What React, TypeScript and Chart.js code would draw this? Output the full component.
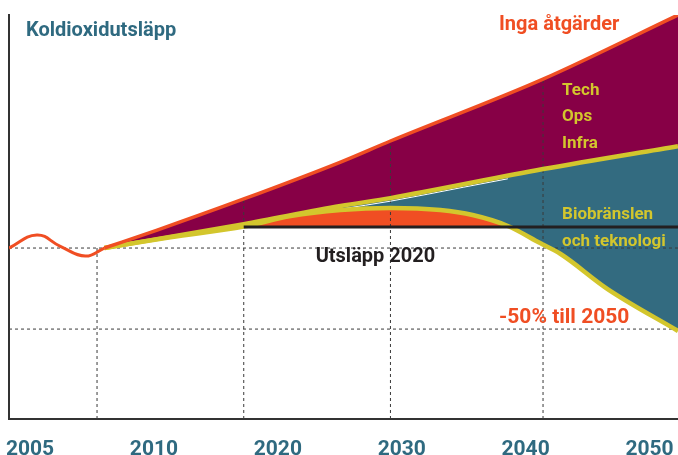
import React, { useEffect, useRef } from 'react';
import { Chart, registerables } from 'chart.js';

Chart.register(...registerables);

// ---- data ----
const yearTickLabels = ['2005', '2010', '2020', '2030', '2040', '2050'];

const historyYears = [2004, 2005.9, 2007.5, 2009.2, 2010.5];
const historyValues = [100, 107.6, 101, 95.3, 100];

const noActionYears = [2010.5, 2014.1, 2020, 2026.6, 2030, 2040.4, 2049.6];
const noActionValues = [100, 110.5, 128.7, 150.3, 162.6, 198.8, 236.3];

const techYears = [2010.5, 2020, 2026.6, 2030, 2040.4, 2049.6];
const techValues = [100, 114.0, 124.6, 129.2, 146.2, 159.6];

const bioYears = [2010.5, 2015, 2020, 2023.2, 2026.6, 2030, 2033.4, 2035.6, 2038, 2040.2, 2041.6, 2044.8, 2049.6];
const bioValues = [100, 106.3, 112.5, 118.7, 122.2, 123.4, 122.2, 119.3, 112.9, 102.9, 96.5, 76.0, 51.5];

const emissions2020Years = [2020, 2049.6];
const emissions2020Value = 112.3;

const separatorYears = [2026.6, 2030, 2035, 2038];
const separatorValues = [122.8, 127.4, 135.6, 140.5];

const refLevels = [100, 52.6];
const decadeYears = [2010, 2020, 2030, 2040.4];
const decadeTops = [100, 128.3, 162.2, 198.5];

const X_MIN = 2004;
const X_MAX = 2049.6;
const Y_MAX = 236.3;

// ---- styles ----
const PURPLE = '#870046';
const TEAL = '#336b80';
const TEAL_TEXT = '#2f6a80';
const ORANGE = '#f04e23';
const YELLOW = '#d3c62d';
const BLACK = '#231f20';
const DASH = '#3a3a3a';
const FONT = 'Roboto, "Open Sans", sans-serif';

const annotations = [
  { text: 'Koldioxidutsläpp', x: 2005.16, y: 224.0, color: TEAL_TEXT, size: 20 },
  { text: 'Inga åtgärder', x: 2037.4, y: 227.5, color: ORANGE, size: 20 },
  { text: 'Tech', x: 2041.7, y: 189.5, color: YELLOW, size: 17 },
  { text: 'Ops', x: 2041.7, y: 174.3, color: YELLOW, size: 17 },
  { text: 'Infra', x: 2041.7, y: 158.5, color: YELLOW, size: 17 },
  { text: 'Biobränslen', x: 2041.7, y: 117.0, color: YELLOW, size: 17 },
  { text: 'och teknologi', x: 2041.7, y: 101.2, color: YELLOW, size: 17 },
  { text: 'Utsläpp 2020', x: 2024.9, y: 91.8, color: BLACK, size: 20 },
  { text: '-50% till 2050', x: 2037.4, y: 56.1, color: ORANGE, size: 21 },
];

const zip = (xs: number[], ys: number[]) => xs.map((x, i) => ({ x, y: ys[i] }));

const textPlugin = {
  id: 'chartTexts',
  afterDraw(chart: any) {
    const { ctx, scales } = chart;
    ctx.save();
    ctx.textAlign = 'left';
    ctx.textBaseline = 'alphabetic';
    for (const a of annotations) {
      ctx.font = `bold ${a.size}px ${FONT}`;
      ctx.fillStyle = a.color;
      ctx.fillText(a.text, scales.x.getPixelForValue(a.x), scales.y.getPixelForValue(a.y));
    }
    ctx.restore();
  },
};

const noPad = (s: any) => {
  s.paddingLeft = 0;
  s.paddingRight = 0;
  s.paddingTop = 0;
  s.paddingBottom = 0;
};

export default function App() {
  const ref = useRef<HTMLCanvasElement | null>(null);

  useEffect(() => {
    if (!ref.current) return;
    const dashed = { borderColor: DASH, borderWidth: 1, borderDash: [3, 3], pointRadius: 0, fill: false, tension: 0 };
    const datasets: any[] = [
      {
        label: 'Inga åtgärder',
        data: zip(noActionYears, noActionValues),
        borderColor: ORANGE,
        borderWidth: 3.5,
        backgroundColor: PURPLE,
        fill: 3,
        cubicInterpolationMode: 'monotone',
        pointRadius: 0,
      },
      {
        label: 'Historik',
        data: zip(historyYears, historyValues),
        borderColor: ORANGE,
        borderWidth: 3,
        fill: false,
        tension: 0.45,
        pointRadius: 0,
      },
      {
        label: 'Utsläpp 2020',
        data: emissions2020Years.map((x) => ({ x, y: emissions2020Value })),
        borderColor: BLACK,
        borderWidth: 3,
        fill: false,
        pointRadius: 0,
      },
      {
        label: 'Tech Ops Infra',
        data: zip(techYears, techValues),
        borderColor: YELLOW,
        borderWidth: 4.5,
        backgroundColor: TEAL,
        fill: 4,
        cubicInterpolationMode: 'monotone',
        pointRadius: 0,
      },
      {
        label: 'Biobränslen och teknologi',
        data: zip(bioYears, bioValues),
        borderColor: YELLOW,
        borderWidth: 4.5,
        fill: { target: { value: emissions2020Value }, above: ORANGE, below: 'rgba(0,0,0,0)' },
        cubicInterpolationMode: 'monotone',
        pointRadius: 0,
      },
      {
        label: 'sep',
        data: zip(separatorYears, separatorValues),
        borderColor: '#ffffff',
        borderWidth: 1,
        fill: false,
        cubicInterpolationMode: 'monotone',
        pointRadius: 0,
      },
      ...refLevels.map((v) => ({
        ...dashed,
        label: 'ref',
        data: [
          { x: X_MIN, y: v },
          { x: X_MAX, y: v },
        ],
      })),
      ...decadeYears.map((yr, i) => ({
        ...dashed,
        label: 'dec',
        data: [
          { x: yr, y: 0 },
          { x: yr, y: decadeTops[i] },
        ],
      })),
    ];

    const chart = new Chart(ref.current, {
      type: 'line',
      data: { datasets },
      plugins: [textPlugin],
      options: {
        responsive: false,
        animation: false,
        devicePixelRatio: 1,
        layout: { padding: { left: 9, top: 15, right: 0, bottom: 0 } },
        plugins: {
          legend: { display: false },
          tooltip: { enabled: false },
          filler: { drawTime: 'beforeDatasetsDraw' },
        },
        scales: {
          x: {
            type: 'linear',
            min: X_MIN,
            max: X_MAX,
            weight: 0,
            grid: { display: false },
            ticks: { display: false },
            border: { display: true, color: '#333333', width: 2 },
            afterFit: (s: any) => {
              s.height = 0;
              noPad(s);
            },
          },
          x2: {
            type: 'linear',
            position: 'bottom',
            min: -0.17,
            max: 5.23,
            weight: 1,
            grid: { display: false },
            border: { display: false },
            afterBuildTicks: (s: any) => {
              s.ticks = yearTickLabels.map((_, i) => ({ value: i }));
            },
            ticks: {
              autoSkip: false,
              maxRotation: 0,
              padding: 10,
              color: TEAL_TEXT,
              font: { family: FONT, size: 21, weight: 'bold' },
              callback: (v: any) => yearTickLabels[Math.round(Number(v))] ?? '',
            },
            afterFit: (s: any) => {
              s.height = 36;
              noPad(s);
            },
          },
          y: {
            type: 'linear',
            min: 0,
            max: Y_MAX,
            grid: { display: false },
            ticks: { display: false },
            border: { display: true, color: '#333333', width: 2 },
            afterFit: (s: any) => {
              s.width = 0;
              noPad(s);
            },
          },
        },
      },
    } as any);
    return () => chart.destroy();
  }, []);

  return (
    <div style={{ position: 'fixed', left: 0, top: 0, width: 678, height: 455, background: '#fff' }}>
      <canvas ref={ref} width={678} height={455} style={{ display: 'block', width: 678, height: 455 }} />
    </div>
  );
}
